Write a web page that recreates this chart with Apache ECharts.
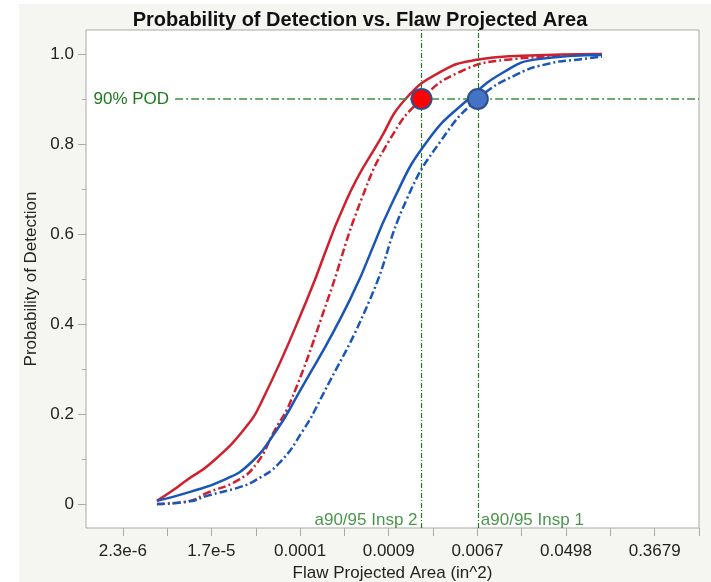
<!DOCTYPE html>
<html>
<head>
<meta charset="utf-8">
<script src="https://cdn.jsdelivr.net/npm/echarts@6/dist/echarts.min.js"></script>
<style>
  html, body { margin: 0; padding: 0; background: #fff; }
  #wrap { position: relative; width: 711px; height: 582px; background: #fff; }
  #panel { position: absolute; left: 19px; top: 4px; right: 0; bottom: 0; background: #f5f5f1; }
  #chart { position: absolute; left: 0; top: 0; width: 711px; height: 582px; }
</style>
</head>
<body>
<div id="wrap">
  <div id="panel"></div>
  <div id="chart"></div>
</div>
<script>
// x is ln(flaw projected area); tick labels show the area itself
const xTickValues = [-13, -12, -11, -10, -9, -8, -7, -6, -5, -4, -3, -2, -1, 0];
const xLabelValues = [-13, -11, -9, -7, -5, -3, -1];
const xLabels = ["2.3e-6", "1.7e-5", "0.0001", "0.0009", "0.0067", "0.0498", "0.3679"];
const yLabelValues = [0, 0.2, 0.4, 0.6, 0.8, 1];
const yLabels = ["0", "0.2", "0.4", "0.6", "0.8", "1.0"];
const yMinorValues = [0.1, 0.3, 0.5, 0.7, 0.9];

// [ln(area), POD]
const insp2Fit = [[-12.23, 0.007], [-11.86, 0.031], [-11.56, 0.053], [-11.02, 0.09], [-10.28, 0.164], [-9.85, 0.231], [-8.85, 0.453], [-7.95, 0.676], [-7.2, 0.809], [-6.62, 0.9], [-5.8, 0.962], [-5.02, 0.987], [-4.0, 0.996], [-2.19, 1.0]];
const insp2Bound = [[-12.23, 0.0], [-11.48, 0.007], [-11.11, 0.024], [-10.4, 0.053], [-9.98, 0.09], [-9.57, 0.164], [-9.2, 0.231], [-8.38, 0.453], [-7.62, 0.676], [-6.98, 0.809], [-6.26, 0.9], [-5.4, 0.96], [-4.35, 0.987], [-2.19, 0.999]];
const insp1Fit = [[-12.23, 0.007], [-11.48, 0.027], [-10.73, 0.053], [-10.13, 0.09], [-9.53, 0.164], [-9.12, 0.231], [-7.88, 0.453], [-6.89, 0.676], [-6.11, 0.809], [-5.2, 0.9], [-4.4, 0.96], [-3.67, 0.988], [-2.19, 0.998]];
const insp1Bound = [[-12.23, 0.0], [-11.48, 0.006], [-11.1, 0.018], [-10.35, 0.038], [-10.0, 0.053], [-9.48, 0.09], [-8.93, 0.164], [-8.55, 0.231], [-7.43, 0.453], [-6.6, 0.676], [-5.81, 0.809], [-4.99, 0.9], [-4.1, 0.955], [-3.37, 0.979], [-2.7, 0.988], [-2.19, 0.994]];

// a90/95 points (ln area) and the POD level
const podLevel = 0.9;
const a9095Insp2 = -6.26;
const a9095Insp1 = -4.99;
const podLineStart = -11.82;

const FONT = "Liberation Sans";
const RED = "#d0202e";
const BLUE = "#1a55b8";
const GREEN = "#1d7a1d";
const dashDot = [8, 3, 2, 3];

const chart = echarts.init(document.getElementById("chart"));

const pick = (vals, labels) => (v) => {
    const i = vals.findIndex((t) => Math.abs(t - v) < 1e-6);
    return i < 0 ? "" : labels[i];
};

const curve = (name, data, color, dashed) => ({
    name: name,
    type: "line",
    data: data,
    smooth: 0.5,
    symbol: "none",
    z: 3,
    lineStyle: { color: color, width: 2.5, type: dashed ? dashDot : "solid" }
});

const vLine = { color: "#237a23", width: 1.2, type: [5, 2, 1, 2] };

const option = {
    animation: false,
    title: {
        text: "Probability of Detection vs. Flaw Projected Area",
        left: 355,
        textAlign: "center",
        top: 5,
        textStyle: { fontFamily: FONT, fontSize: 20, fontWeight: "bold", color: "#111" }
    },
    grid: {
        left: 86, right: 12, top: 30, bottom: 54,
        outerBoundsMode: "none",
        show: true, backgroundColor: "#fff", borderColor: "#a9a9a9", borderWidth: 1
    },
    xAxis: {
        type: "value",
        min: -13.83,
        max: 0,
        name: "Flaw Projected Area (in^2)",
        nameLocation: "middle",
        nameGap: 35,
        nameTextStyle: { fontFamily: FONT, fontSize: 17, color: "#222" },
        axisLine: { show: false, onZero: false },
        splitLine: { show: false },
        axisTick: { customValues: xTickValues, length: 8, lineStyle: { color: "#a9a9a9" } },
        axisLabel: {
            customValues: xLabelValues,
            formatter: pick(xLabelValues, xLabels),
            fontFamily: FONT, fontSize: 17, color: "#222", margin: 15
        }
    },
    yAxis: [
        {
            type: "value",
            min: -0.0533,
            max: 1.0533,
            name: "Probability of Detection",
            nameLocation: "middle",
            nameGap: 40,
            nameTextStyle: { fontFamily: FONT, fontSize: 17, color: "#222" },
            axisLine: { show: false, onZero: false },
            splitLine: { show: false },
            axisTick: { customValues: yLabelValues, length: 8, lineStyle: { color: "#a9a9a9" } },
            axisLabel: {
                customValues: yLabelValues,
                formatter: pick(yLabelValues, yLabels),
                fontFamily: FONT, fontSize: 17, color: "#222", margin: 12
            }
        },
        {
            type: "value",
            position: "left",
            min: -0.0533,
            max: 1.0533,
            axisLine: { show: false, onZero: false },
            splitLine: { show: false },
            axisTick: { customValues: yMinorValues, length: 4, lineStyle: { color: "#a9a9a9" } },
            axisLabel: { show: false }
        }
    ],
    series: [
        // 绿色参考线
        {
            type: "line",
            data: [],
            z: 1,
            markLine: {
                silent: true,
                symbol: "none",
                animation: false,
                lineStyle: vLine,
                data: [
                    { xAxis: a9095Insp2, label: { show: false }, lineStyle: vLine },
                    { xAxis: a9095Insp1, label: { show: false }, lineStyle: vLine },
                    [
                        {
                            coord: [podLineStart, podLevel],
                            label: {
                                show: true, position: "start", distance: 6, formatter: "90% POD",
                                fontFamily: FONT, fontSize: 17, color: GREEN
                            },
                            lineStyle: { color: "#3f8f3f", width: 1.5, type: dashDot }
                        },
                        { coord: [0, podLevel] }
                    ]
                ]
            }
        },
        {
            type: "scatter",
            symbolSize: 0,
            z: 2,
            data: [
                { value: [a9095Insp2, -0.036], label: { position: "left", distance: 4, formatter: "a90/95 Insp 2" } },
                { value: [a9095Insp1, -0.036], label: { position: "right", distance: 3, formatter: "a90/95 Insp 1" } }
            ],
            label: { show: true, fontFamily: FONT, fontSize: 17, color: GREEN }
        },
        curve("Insp 2 fit", insp2Fit, RED, false),
        curve("Insp 2 a90/95", insp2Bound, RED, true),
        curve("Insp 1 fit", insp1Fit, BLUE, false),
        curve("Insp 1 a90/95", insp1Bound, BLUE, true),
        // 标记点放在上层, 不透明
        {
            type: "scatter",
            z: 10,
            symbolSize: 20,
            data: [
                { value: [a9095Insp2, podLevel], itemStyle: { color: "#ff0000" } },
                { value: [a9095Insp1, podLevel], itemStyle: { color: "#4472c4" } }
            ],
            itemStyle: { borderColor: "#2f4f8f", borderWidth: 2, opacity: 1 }
        }
    ]
};

chart.setOption(option);
</script>
</body>
</html>
